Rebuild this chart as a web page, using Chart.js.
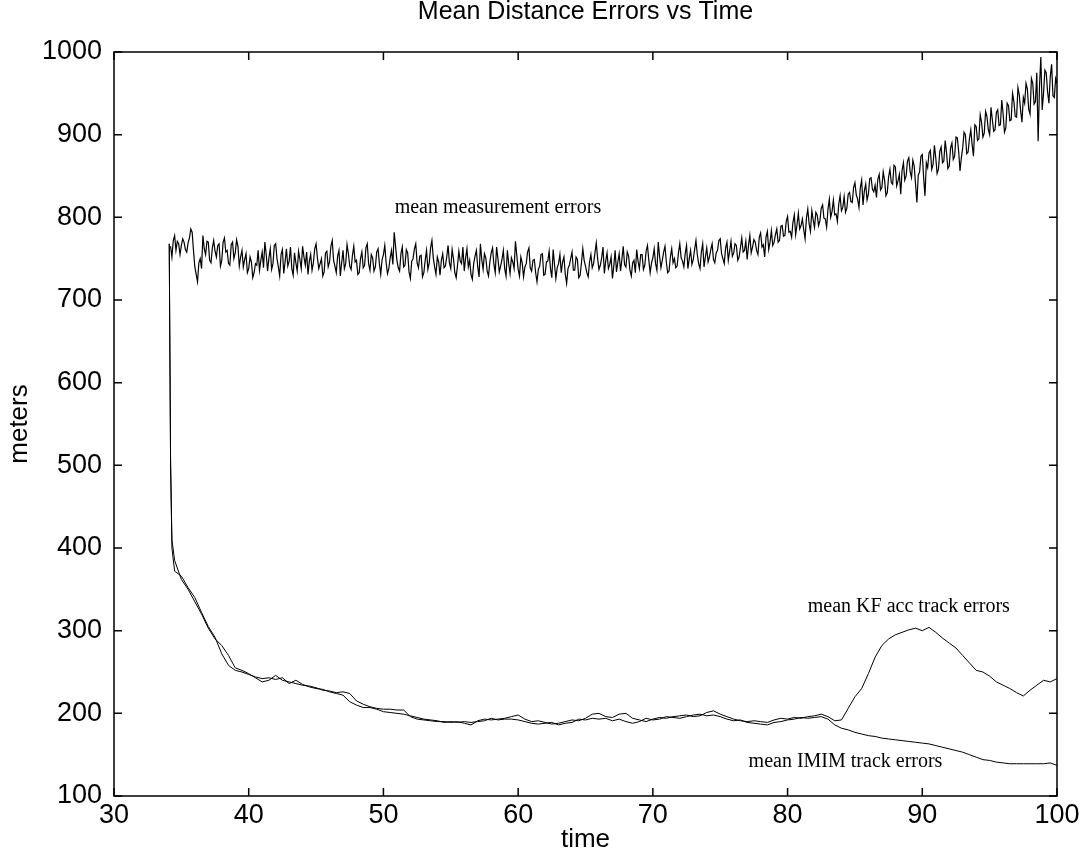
<!DOCTYPE html>
<html>
<head>
<meta charset="utf-8">
<script src="https://cdn.jsdelivr.net/npm/chart.js@4.4.1/dist/chart.umd.min.js"></script>
<style>
  html, body { margin: 0; padding: 0; background: #fff; }
  #wrap { width: 1083px; height: 859px; }
</style>
</head>
<body>
<div id="wrap"><canvas id="c" width="1083" height="859"></canvas></div>
<script>
// ---------- DATA ----------
const chartTitle = 'Mean Distance Errors vs Time';
const xTitle = 'time';
const yTitle = 'meters';
const xTicks = [30, 40, 50, 60, 70, 80, 90, 100];
const yTicks = [100, 200, 300, 400, 500, 600, 700, 800, 900, 1000];

// mean measurement errors, sampled every 0.1 s from t = 34.2 (one row = 5 s)
const measStart = 34.2;
const measStep = 0.1;
const measValues = [
  765,752,772,778,760,771,768,755,766,774,770,761,758,769,775,786,782,760,740,731,722,745,750,738,778,762,755,771,770,748,745,763,772,759,752,766,768,741,748,770,775,758,760,744,742,767,770,750,757,773,
  765,741,752,760,740,749,756,733,738,752,746,727,733,744,742,760,736,748,758,739,770,755,735,751,762,737,744,766,768,750,740,729,755,761,732,746,762,741,747,764,738,730,757,745,735,759,749,738,765,752,
  742,758,731,747,755,736,745,762,768,751,738,744,750,729,734,757,759,740,746,765,772,748,741,733,753,760,729,745,760,738,744,767,756,741,737,754,765,746,748,731,733,750,758,739,742,763,768,744,736,755,
  751,735,740,758,762,744,731,749,755,766,745,732,738,751,760,743,782,765,748,739,735,756,764,740,742,761,757,734,726,747,750,762,768,745,739,753,754,728,733,748,760,737,745,763,772,751,740,731,752,746,
  730,748,756,739,741,752,766,745,738,761,750,733,727,742,759,747,744,764,735,751,762,740,748,731,725,744,753,760,740,728,768,749,737,756,751,735,729,746,757,763,743,733,764,750,734,741,749,760,738,729,
  760,744,732,751,746,738,771,754,737,729,752,745,728,740,744,758,763,739,735,748,749,733,722,737,741,755,756,730,731,746,747,759,738,727,761,743,726,739,744,755,733,746,752,731,720,738,742,750,758,736,
  736,752,749,727,730,745,762,748,741,733,728,746,755,739,744,757,769,750,737,742,751,764,732,747,757,738,743,752,726,741,760,734,746,756,735,749,765,743,740,758,753,736,729,745,748,733,761,747,738,755,
  755,737,742,759,766,748,733,745,751,762,744,736,770,753,739,748,758,765,746,733,735,752,762,745,750,739,741,757,768,751,747,740,756,766,738,750,760,743,749,761,772,755,744,738,758,768,740,752,763,746,
  752,761,768,749,745,757,760,772,774,756,750,744,763,770,748,759,771,753,757,768,766,748,752,763,775,758,760,771,749,766,778,757,764,773,770,760,755,776,781,764,767,752,776,783,761,770,784,766,770,779,
  786,770,772,789,790,777,778,795,801,782,783,776,794,803,779,791,805,786,790,798,785,774,799,810,792,783,808,797,788,806,803,790,796,811,815,799,798,788,810,822,800,807,821,803,804,795,816,826,808,812,
  825,806,811,828,830,819,818,836,842,827,822,812,836,845,815,832,840,821,828,847,848,834,831,839,824,846,852,833,836,855,845,826,830,849,858,842,840,863,861,838,844,852,828,857,866,845,850,868,872,855,
  848,869,862,840,818,851,855,874,876,848,826,866,860,878,881,858,864,887,872,853,858,880,885,866,868,893,878,859,862,884,890,870,874,897,896,880,856,872,884,903,900,877,879,895,906,888,874,912,910,893,
  895,924,915,897,902,928,922,906,900,933,918,904,906,927,930,911,912,942,925,903,908,938,935,917,918,950,940,922,921,957,948,929,915,945,938,962,955,931,925,968,962,937,940,975,892,958,994,930,950,978,
  975,952,938,970,985,947,945,968,962
];

// track errors: first samples at 34.1, 34.2, 34.3, 34.5, then every 0.5 s from 35 to 100
const trackStartTimes = [34.1, 34.2, 34.3, 34.5];
const trackGridStart = 35.0;
const trackGridStep = 0.5;
const kfValues = [
  768, 505, 410, 385,
  362, 350, 335, 320, 303, 290, 282, 270, 255, 252,
  248, 243, 238, 240, 246, 240, 238, 236, 234, 233,
  231, 228, 227, 225, 226, 224, 215, 211, 208, 206,
  205, 205, 204, 204, 196, 193, 192, 191, 190, 190,
  189, 190, 188, 186, 191, 193, 192, 193, 194, 196,
  198, 193, 190, 191, 189, 187, 188, 190, 192, 191,
  194, 199, 200, 196, 195, 199, 200, 194, 192, 190,
  193, 195, 194, 196, 197, 198, 196, 197, 201, 203,
  199, 196, 193, 191, 190, 191, 190, 189, 192, 194,
  193, 195, 194, 196, 197, 199, 196, 191, 192, 206,
  220, 230, 248, 268, 282, 290, 295, 298, 301, 303,
  300, 304, 298, 291, 285, 279, 270, 261, 252, 250,
  245, 238, 234, 230, 225, 221, 228, 234, 240, 238,
  242
];
const immValues = [
  768, 500, 400, 372,
  366, 352, 340, 322, 305, 292, 272, 258, 252, 250,
  247, 244, 242, 243, 241, 243, 236, 240, 235, 232,
  230, 229, 226, 224, 222, 214, 210, 207, 207, 205,
  202, 201, 200, 199, 197, 195, 193, 192, 191, 189,
  190, 189, 190, 189, 190, 191, 194, 192, 193, 193,
  192, 190, 188, 187, 188, 189, 186, 188, 189, 193,
  192, 194, 193, 194, 191, 193, 190, 188, 190, 194,
  192, 193, 196, 195, 194, 196, 198, 199, 197, 198,
  196, 193, 191, 192, 189, 188, 187, 186, 189, 190,
  192, 193, 195, 194, 195, 196, 193, 186, 182, 180,
  177, 175, 173, 172, 170, 169, 168, 167, 166, 165,
  164, 163, 161, 159, 157, 155, 153, 150, 147, 144,
  143, 141, 140, 139, 139, 139, 139, 139, 139, 140,
  137
];

// text labels placed in data coordinates
const annotations = [
  { text: 'mean measurement errors', x: 58.5, y: 811 },
  { text: 'mean KF acc track errors', x: 89.0, y: 329 },
  { text: 'mean IMIM track errors', x: 84.3, y: 141 }
];

// ---------- BUILD ----------
const measTime = measValues.map((_, i) => +(measStart + i * measStep).toFixed(1));
const trackTime = trackStartTimes.slice();
for (let i = 0; trackStartTimes.length + i < kfValues.length; i++) {
  trackTime.push(+(trackGridStart + i * trackGridStep).toFixed(1));
}
const toPts = (xs, ys) => ys.map((y, i) => ({ x: xs[i], y }));

const SANS = '"Liberation Sans", Arial, sans-serif';
const SERIF = '"Liberation Serif", "Times New Roman", serif';

const framePlugin = {
  id: 'frame',
  afterDatasetsDraw(chart) {
    const { ctx, chartArea: a, scales: { x, y } } = chart;
    ctx.save();
    ctx.strokeStyle = '#000';
    ctx.lineWidth = 1.5;
    ctx.strokeRect(a.left, a.top, a.right - a.left, a.bottom - a.top);
    const tl = 8;
    ctx.beginPath();
    xTicks.forEach(v => {
      const px = x.getPixelForValue(v);
      ctx.moveTo(px, a.bottom); ctx.lineTo(px, a.bottom - tl);
      ctx.moveTo(px, a.top); ctx.lineTo(px, a.top + tl);
    });
    yTicks.forEach(v => {
      const py = y.getPixelForValue(v);
      ctx.moveTo(a.left, py); ctx.lineTo(a.left + tl, py);
      ctx.moveTo(a.right, py); ctx.lineTo(a.right - tl, py);
    });
    ctx.stroke();
    ctx.fillStyle = '#000';
    ctx.font = '20px ' + SERIF;
    ctx.textAlign = 'center';
    ctx.textBaseline = 'middle';
    annotations.forEach(an => {
      ctx.fillText(an.text, x.getPixelForValue(an.x), y.getPixelForValue(an.y));
    });
    ctx.restore();
  }
};

const lineStyle = { borderColor: '#000', borderWidth: 1, pointRadius: 0, tension: 0, fill: false };

new Chart(document.getElementById('c'), {
  type: 'line',
  data: {
    datasets: [
      Object.assign({ label: 'mean measurement errors', data: toPts(measTime, measValues) }, lineStyle, { borderWidth: 1.2 }),
      Object.assign({ label: 'mean KF acc track errors', data: toPts(trackTime, kfValues) }, lineStyle),
      Object.assign({ label: 'mean IMIM track errors', data: toPts(trackTime, immValues) }, lineStyle)
    ]
  },
  options: {
    responsive: false,
    animation: false,
    devicePixelRatio: 1,
    layout: { padding: { left: 0, right: 26, top: 0, bottom: 0 } },
    plugins: {
      legend: { display: false },
      tooltip: { enabled: false },
      title: {
        display: true,
        text: chartTitle,
        fullSize: false,
        color: '#000',
        font: { family: SANS, size: 25, weight: 'normal', lineHeight: 1 },
        padding: { top: 0, bottom: 27 }
      }
    },
    scales: {
      x: {
        type: 'linear',
        min: 30, max: 100,
        afterBuildTicks: s => { s.ticks = xTicks.map(v => ({ value: v })); },
        grid: { display: false, drawTicks: false },
        border: { display: false },
        ticks: { color: '#000', font: { family: SANS, size: 27 }, padding: 3, maxRotation: 0, autoSkip: false, callback: v => String(v) },
        title: { display: true, text: xTitle, color: '#000', font: { family: SANS, size: 26 }, padding: { top: 0, bottom: 4 } },
        afterFit: s => { s.height = 63; }
      },
      y: {
        type: 'linear',
        min: 100, max: 1000,
        afterBuildTicks: s => { s.ticks = yTicks.map(v => ({ value: v })); },
        grid: { display: false, drawTicks: false },
        border: { display: false },
        ticks: { color: '#000', font: { family: SANS, size: 27 }, padding: 12, autoSkip: false, callback: v => String(v) },
        title: { display: true, text: yTitle, color: '#000', font: { family: SANS, size: 26 }, padding: { top: 4, bottom: 0 } },
        afterFit: s => { s.width = 114; }
      }
    }
  },
  plugins: [framePlugin]
});
</script>
</body>
</html>
